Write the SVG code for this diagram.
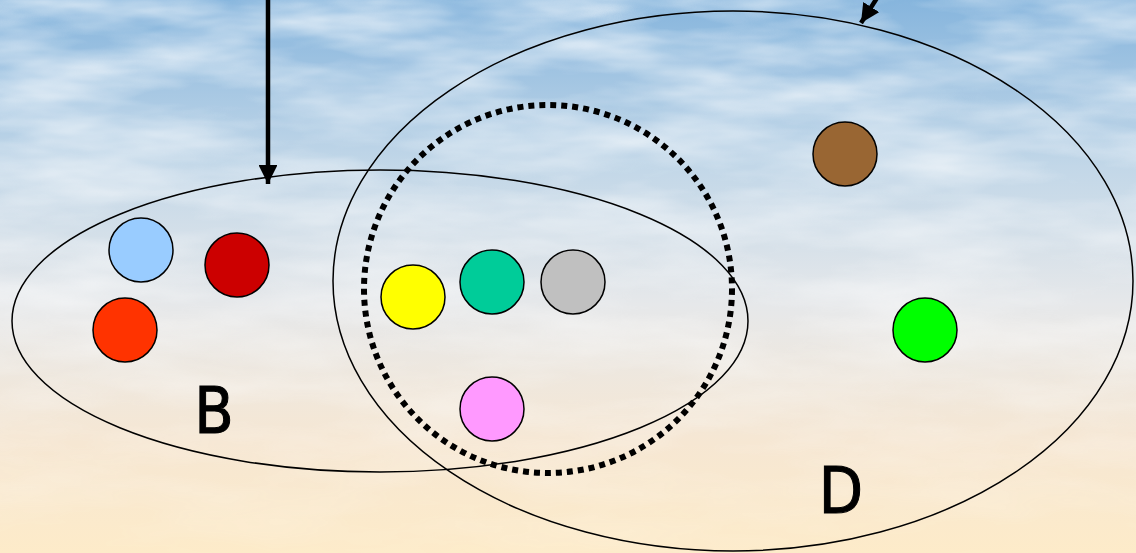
<svg xmlns="http://www.w3.org/2000/svg" width="1136" height="553" viewBox="0 0 1136 553">
  <defs>
    <linearGradient id="sky" x1="0" y1="0" x2="0" y2="1">
      <stop offset="0" stop-color="#86B5DD"/>
      <stop offset="0.3" stop-color="#C2D7E8"/>
      <stop offset="0.55" stop-color="#E6E8EA"/>
      <stop offset="0.8" stop-color="#F6E7D3"/>
      <stop offset="1" stop-color="#FDEBC9"/>
    </linearGradient>
    <linearGradient id="cloudfade" x1="0" y1="0" x2="0" y2="1">
      <stop offset="0" stop-color="#fff" stop-opacity="1"/>
      <stop offset="0.7" stop-color="#fff" stop-opacity="0.5"/>
      <stop offset="1" stop-color="#fff" stop-opacity="0.1"/>
    </linearGradient>
    <filter id="clouds" x="0" y="0" width="100%" height="100%">
      <feTurbulence type="fractalNoise" baseFrequency="0.006 0.025" numOctaves="4" seed="7" result="n"/>
      <feColorMatrix in="n" type="matrix" values="0 0 0 0 1  0 0 0 0 1  0 0 0 0 1  1.8 0 0 0 -0.6" result="c"/>
      <feComposite in="c" in2="SourceGraphic" operator="in"/>
    </filter>
    <marker id="arrow" viewBox="0 0 10 10" refX="10" refY="5" markerWidth="4.2" markerHeight="4.2" orient="auto" markerUnits="strokeWidth">
      <path d="M0,0 L10,5 L0,10 z" fill="#000"/>
    </marker>
    <style>
      .set { fill: none; stroke: #000; stroke-width: 1.5; }
      .dot { stroke: #000; stroke-width: 1.5; }
      .conn { stroke: #000; stroke-width: 4.5; fill: none; }
      .lbl { font-family: "DejaVu Sans", "Liberation Sans", sans-serif; font-stretch: condensed; font-size: 64px; fill: #000; stroke: #000; stroke-width: 1; text-anchor: middle; }
    </style>
  </defs>

  <rect x="0" y="0" width="1136" height="553" fill="url(#sky)"/>
  <rect x="0" y="0" width="1136" height="553" fill="url(#cloudfade)" filter="url(#clouds)" opacity="0.8"/>

  <g id="set-B">
    <ellipse class="set" cx="380" cy="321" rx="368" ry="151"/>
    <text class="lbl" x="214" y="433">B</text>
  </g>
  <g id="set-D">
    <ellipse class="set" cx="733" cy="281" rx="400" ry="270"/>
    <text class="lbl" x="841" y="513">D</text>
  </g>
  <g id="set-dotted">
    <ellipse cx="548" cy="289" rx="184" ry="184" fill="none" stroke="#000" stroke-width="6" stroke-dasharray="6 5"/>
  </g>

  <g id="node-lightblue"><circle class="dot" cx="141" cy="250" r="32" fill="#99CCFF"/></g>
  <g id="node-darkred"><circle class="dot" cx="237" cy="265" r="32" fill="#CC0000"/></g>
  <g id="node-orange"><circle class="dot" cx="125" cy="330" r="32" fill="#FF3300"/></g>
  <g id="node-yellow"><circle class="dot" cx="413" cy="297" r="32" fill="#FFFF00"/></g>
  <g id="node-teal"><circle class="dot" cx="492" cy="282" r="32" fill="#00CC99"/></g>
  <g id="node-gray"><circle class="dot" cx="573" cy="282" r="32" fill="#C0C0C0"/></g>
  <g id="node-pink"><circle class="dot" cx="492" cy="409" r="32" fill="#FF99FF"/></g>
  <g id="node-brown"><circle class="dot" cx="845" cy="154" r="32" fill="#996633"/></g>
  <g id="node-green"><circle class="dot" cx="925" cy="330" r="32" fill="#00FF00"/></g>

  <g id="connectors">
    <line class="conn" x1="268" y1="0" x2="268" y2="184" marker-end="url(#arrow)"/>
    <line class="conn" x1="877" y1="-2" x2="861" y2="23" marker-end="url(#arrow)"/>
  </g>
</svg>
